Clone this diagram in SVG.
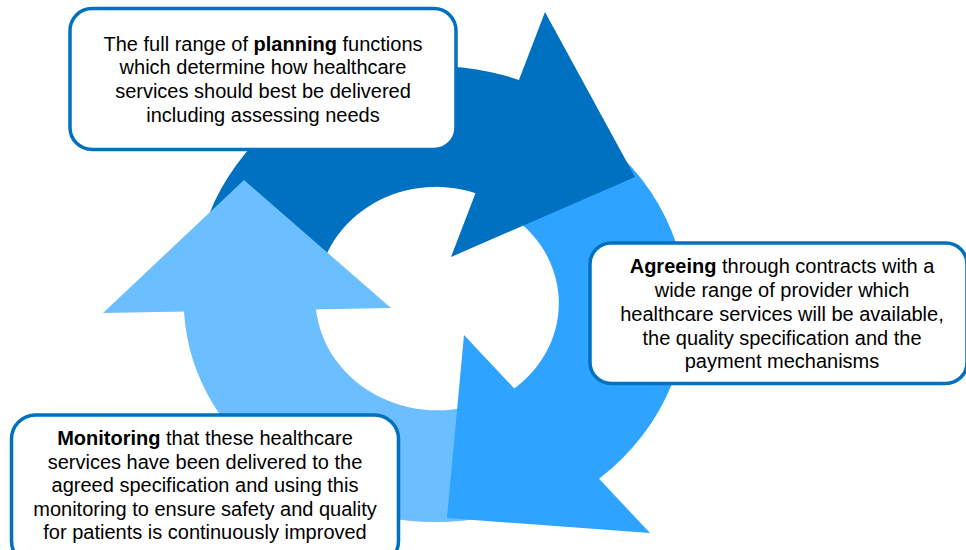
<svg xmlns="http://www.w3.org/2000/svg" width="966" height="550" viewBox="0 0 966 550">
  <style>
    .dark { fill: #0070C0; }
    .mid { fill: #2EA3FF; }
    .light { fill: #6BBEFF; }
    .box { fill: #FFFFFF; stroke: #0070C0; stroke-width: 3.5; }
    .t { font-family: "Liberation Sans", Arial, sans-serif; font-size: 20px; fill: #000000; text-anchor: middle; }
    .b { font-weight: bold; }
  </style>
  <rect width="966" height="550" fill="#FFFFFF"/>
  <g id="connectors">
    <!-- arrow bodies (each runs a little under its own head) -->
    <path class="dark" d="M 194,294 A 242 227 0 0 1 519,80 L 522.7,81.4 L 478.7,194.4 L 475,193 A 119 111 0 0 0 317,296 Z"/>
    <path class="mid" d="M 532.2,100.2 A 251 225 0 0 1 600,478 L 597.1,480.7 L 512.1,390.7 L 515,388 A 121 110 0 0 0 484,201.6 Z"/>
    <path class="light" d="M 490,516.8 A 252 222 0 0 1 184,312 L 184,308 L 316,305 L 316,309 A 122 112 0 0 0 495,397 Z"/>
    <!-- arrow heads -->
    <polygon class="dark" points="545,12 635,177 451,257"/>
    <polygon class="mid" points="464,335 650,533 447,518"/>
    <polygon class="light" points="103,313 244,180 391,308"/>
  </g>
  <g id="planning">
    <rect class="box" x="70" y="8.5" width="386" height="141" rx="22" ry="22"/>
    <text class="t" x="263" y="50.7">The full range of <tspan class="b">planning</tspan> functions</text>
    <text class="t" x="263" y="74.4">which determine how healthcare</text>
    <text class="t" x="263" y="98">services should best be delivered</text>
    <text class="t" x="263" y="121.7">including assessing needs</text>
  </g>
  <g id="agreeing">
    <rect class="box" x="590" y="243" width="377" height="140.5" rx="21" ry="21"/>
    <text class="t" x="782" y="273.3"><tspan class="b">Agreeing</tspan> through contracts with a</text>
    <text class="t" x="782" y="297">wide range of provider which</text>
    <text class="t" x="782" y="320.8">healthcare services will be available,</text>
    <text class="t" x="782" y="344.5">the quality specification and the</text>
    <text class="t" x="782" y="368.3">payment mechanisms</text>
  </g>
  <g id="monitoring">
    <rect class="box" x="11.5" y="415" width="387" height="150" rx="24" ry="24"/>
    <text class="t" x="205" y="445"><tspan class="b">Monitoring</tspan> that these healthcare</text>
    <text class="t" x="205" y="468.6">services have been delivered to the</text>
    <text class="t" x="205" y="492.2">agreed specification and using this</text>
    <text class="t" x="205" y="515.8">monitoring to ensure safety and quality</text>
    <text class="t" x="205" y="539.3">for patients is continuously improved</text>
  </g>
</svg>
